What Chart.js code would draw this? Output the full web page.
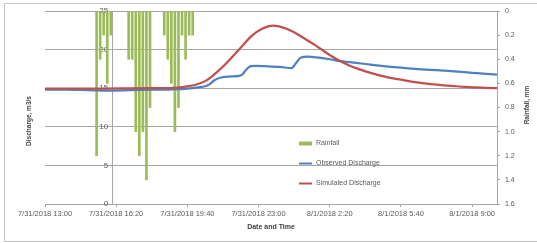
<!DOCTYPE html>
<html><head><meta charset="utf-8">
<script src="https://cdn.jsdelivr.net/npm/chart.js@4/dist/chart.umd.min.js"></script>
<style>html,body{margin:0;padding:0;background:#fff;overflow:hidden}</style>
</head><body>
<canvas id="c" width="537" height="243"></canvas>
<script>
// ---- data (time = minutes after 7/31/2018 13:00) ----
const xTickMinutes = [0, 200, 400, 600, 800, 1000, 1200];
const xTickLabels = ['7/31/2018 13:00','7/31/2018 16:20','7/31/2018 19:40','7/31/2018 23:00','8/1/2018 2:20','8/1/2018 5:40','8/1/2018 9:00'];
const xMaxMinute = 1270;
const yAxisCrossMinute = 190;

const rainTimes  = [145,155,165,175,185, 235,245,255,265,275,285,295, 335,345,355,365,375,385,395,405,415];
const rainValues = [1.2,0.4,0.2,0.6,0.2, 0.4,0.4,1.0,1.2,1.0,1.4,0.8, 0.2,0.4,0.6,1.0,0.8,0.2,0.4,0.2,0.2];

const obsTimes  = [0,60,120,180,240,300,360,400,430,450,462,475,492,515,545,555,565,578,592,620,660,693,706,718,738,770,800,830,890,945,1000,1040,1110,1160,1200,1240,1270];
const obsValues = [14.8,14.8,14.75,14.7,14.75,14.8,14.85,14.95,15.1,15.25,15.5,16.0,16.35,16.5,16.6,16.8,17.4,17.85,17.9,17.85,17.75,17.6,18.3,18.95,19.1,18.95,18.75,18.5,18.2,17.9,17.65,17.5,17.3,17.15,17.0,16.85,16.75];

const simTimes  = [0,150,300,360,400,430,455,480,513,549,580,610,642,670,700,730,760,790,820,850,880,910,940,970,1000,1030,1060,1090,1120,1150,1180,1210,1240,1270];
const simValues = [14.95,14.95,15.0,15.05,15.25,15.55,16.05,16.95,18.4,20.2,21.75,22.7,23.1,22.85,22.25,21.4,20.55,19.6,18.75,18.05,17.5,17.05,16.65,16.35,16.1,15.85,15.65,15.5,15.38,15.27,15.17,15.1,15.04,15.0];

const seriesNames = ['Rainfall', 'Observed Discharge', 'Simulated Discharge'];
const xAxisTitle = 'Date and Time';
const leftAxisTitle = 'Discharge, m3/s';
const rightAxisTitle = 'Rainfall, mm';

// ---- styling ----
const FONT = "'Liberation Sans', Arial, sans-serif";
const GREEN = '#9BBB59', BLUE = '#4F81BD', RED = '#C0504D';
const GRID = '#a6a6a6', TXT = '#595959', TITLE = '#404040';

const toXY = (ts, vs) => ts.map((t, i) => ({x: t, y: vs[i]}));

const customPlugin = {
  id: 'custom',
  beforeDraw(chart) {
    const ctx = chart.ctx;
    ctx.save();
    ctx.fillStyle = '#fff';
    ctx.fillRect(0, 0, chart.width, chart.height);
    ctx.strokeStyle = '#c6c6c6';
    ctx.lineWidth = 1;
    ctx.strokeRect(4.5, 3.5, chart.width + 10, chart.height - 5);
    ctx.restore();
  },
  afterDraw(chart) {
    const ctx = chart.ctx;
    ctx.save();
    // vertical axis titles
    ctx.fillStyle = TITLE;
    ctx.font = "bold 6.5px " + FONT;
    ctx.textAlign = 'center';
    ctx.textBaseline = 'middle';
    ctx.translate(29, 121);
    ctx.rotate(-Math.PI / 2);
    ctx.fillText(leftAxisTitle, 0, 0);
    ctx.setTransform(1, 0, 0, 1, 0, 0);
    ctx.translate(527, 105);
    ctx.rotate(-Math.PI / 2);
    ctx.fillText(rightAxisTitle, 0, 0);
    ctx.setTransform(1, 0, 0, 1, 0, 0);
    // legend
    const rows = [143.5, 163.5, 183.5];
    ctx.font = "7px " + FONT;
    ctx.textAlign = 'left';
    chart.data.datasets.forEach((ds, i) => {
      const y = rows[i];
      if (ds.type === 'bar') {
        ctx.fillStyle = ds.backgroundColor;
        ctx.fillRect(299, y - 2, 13, 4);
      } else {
        ctx.strokeStyle = ds.borderColor;
        ctx.lineWidth = 2;
        ctx.beginPath();
        ctx.moveTo(299, y);
        ctx.lineTo(312, y);
        ctx.stroke();
      }
      ctx.fillStyle = TXT;
      ctx.fillText(ds.label, 316, y);
    });
    ctx.restore();
  }
};

new Chart(document.getElementById('c'), {
  type: 'line',
  data: {
    datasets: [
      {type: 'bar', label: seriesNames[0], data: toXY(rainTimes, rainValues), xAxisID: 'x', yAxisID: 'yR',
       backgroundColor: GREEN, borderWidth: 0, barThickness: 2, order: 3},
      {type: 'line', label: seriesNames[1], data: toXY(obsTimes, obsValues), xAxisID: 'x', yAxisID: 'yL',
       borderColor: BLUE, borderWidth: 2.25, pointRadius: 0, cubicInterpolationMode: 'monotone', fill: false, order: 2},
      {type: 'line', label: seriesNames[2], data: toXY(simTimes, simValues), xAxisID: 'x', yAxisID: 'yL',
       borderColor: RED, borderWidth: 2.25, pointRadius: 0, cubicInterpolationMode: 'monotone', fill: false, order: 1}
    ]
  },
  options: {
    responsive: false,
    animation: false,
    devicePixelRatio: 1,
    layout: {padding: {left: 45, top: 11, right: 0, bottom: 0}},
    plugins: {legend: {display: false}, tooltip: {enabled: false}},
    scales: {
      x: {
        type: 'linear', position: 'bottom', min: 0, max: xMaxMinute, offset: false,
        afterBuildTicks: s => { s.ticks = xTickMinutes.map(v => ({value: v})); },
        afterFit: s => { s.height = 39; },
        ticks: {callback: (v, i) => xTickLabels[i], autoSkip: false, maxRotation: 0, color: TXT,
                font: {family: FONT, size: 7.5}, padding: 2},
        grid: {drawOnChartArea: false, drawTicks: true, tickLength: 3, color: GRID, offset: false},
        border: {display: true, color: GRID},
        title: {display: true, text: xAxisTitle, color: TITLE, font: {family: FONT, size: 7, weight: 'bold'},
                padding: {top: 0, bottom: 12}}
      },
      yL: {
        axis: 'y', type: 'linear', position: {x: yAxisCrossMinute}, min: 0, max: 25,
        ticks: {stepSize: 5, color: TXT, font: {family: FONT, size: 8}, callback: v => v + '  '},
        grid: {color: GRID, drawTicks: false},
        border: {display: true, color: GRID}
      },
      yR: {
        axis: 'y', type: 'linear', position: 'right', reverse: true, min: 0, max: 1.6,
        afterFit: s => { s.width = 40; },
        ticks: {stepSize: 0.2, color: TXT, font: {family: FONT, size: 7}, padding: 5},
        grid: {drawOnChartArea: false, drawTicks: true, tickLength: 3, color: GRID},
        border: {display: true, color: GRID}
      }
    }
  },
  plugins: [customPlugin]
});
</script>
</body></html>
